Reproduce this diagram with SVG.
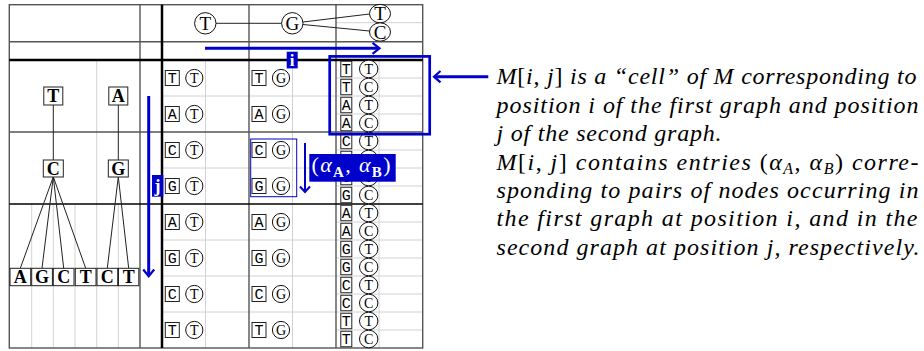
<svg xmlns="http://www.w3.org/2000/svg" width="924" height="351" viewBox="0 0 924 351">
<style>
.lt{stroke:#d2d2d2;stroke-width:1;fill:none}
.dk{stroke:#555;stroke-width:1.4;fill:none}
.bk{stroke:#000;fill:none}
.nb rect{fill:#fff;stroke:#222;stroke-width:1}
.nb text{font-family:"Liberation Serif",serif;font-weight:bold;font-size:18px;text-anchor:middle;fill:#000}
.cn circle,.cn ellipse{fill:#fff;stroke:#111;stroke-width:1}
.cn text{font-family:"Liberation Serif",serif;font-size:19px;text-anchor:middle;fill:#000}
.e rect{fill:#fff;stroke:#222;stroke-width:1}
.e circle,.e ellipse{fill:#fff;stroke:#111;stroke-width:1}
.tt{font-family:"Liberation Mono",monospace;font-size:15px;text-anchor:middle;fill:#000}
.cl{font-family:"Liberation Serif",serif;font-size:14px;text-anchor:middle;fill:#000}
.edge{stroke:#222;stroke-width:1;fill:none}
.bl{stroke:#0000cc;fill:none}
.lbl{fill:#0000cc}
.lw{fill:#fff;font-family:"Liberation Serif",serif;font-weight:bold;text-anchor:middle}
.up{font-style:normal}
</style>

<g id="table">
  <g class="lt">
    <line x1="205.5" y1="60" x2="205.5" y2="348"/>
    <line x1="292.5" y1="60" x2="292.5" y2="348"/>
    <line x1="379" y1="60" x2="379" y2="348"/>
    <line x1="96.7" y1="60" x2="96.7" y2="348"/>
    <line x1="31.7" y1="204" x2="31.7" y2="348"/>
    <line x1="53.3" y1="204" x2="53.3" y2="348"/>
    <line x1="75" y1="204" x2="75" y2="348"/>
    <line x1="118.3" y1="204" x2="118.3" y2="348"/>
    <line x1="162" y1="96" x2="422.7" y2="96"/>
    <line x1="162" y1="168" x2="422.7" y2="168"/>
    <line x1="162" y1="240" x2="422.7" y2="240"/>
    <line x1="162" y1="276" x2="422.7" y2="276"/>
    <line x1="162" y1="312" x2="422.7" y2="312"/>
    <line x1="336" y1="78" x2="422.7" y2="78"/>
    <line x1="336" y1="114" x2="422.7" y2="114"/>
    <line x1="336" y1="150" x2="422.7" y2="150"/>
    <line x1="336" y1="186" x2="422.7" y2="186"/>
    <line x1="336" y1="222" x2="422.7" y2="222"/>
    <line x1="336" y1="258" x2="422.7" y2="258"/>
    <line x1="336" y1="294" x2="422.7" y2="294"/>
    <line x1="336" y1="330" x2="422.7" y2="330"/>
    <line x1="336" y1="22.7" x2="422.7" y2="22.7"/>
  </g>
  <rect class="dk" x="9.3" y="4.7" width="413.4" height="343.3"/>
  <line class="dk" x1="9.3" y1="41.7" x2="422.7" y2="41.7"/>
  <line class="dk" x1="9.3" y1="132" x2="422.7" y2="132"/>
  <line class="dk" x1="249" y1="4.7" x2="249" y2="348"/>
  <line class="dk" x1="140" y1="4.7" x2="140" y2="348" stroke-width="2"/>
  <line class="dk" x1="336" y1="4.7" x2="336" y2="348" stroke-width="2"/>
  <line class="bk" x1="9.3" y1="204" x2="422.7" y2="204" stroke-width="1.3"/>
  <line class="bk" x1="9.3" y1="60" x2="422.7" y2="60" stroke-width="2.5"/>
  <line class="bk" x1="162" y1="4.7" x2="162" y2="348" stroke-width="2.5"/>
</g>

<g id="connectors">
  <line class="edge" x1="53.3" y1="105" x2="53.3" y2="160"/>
  <line class="edge" x1="118.3" y1="105" x2="118.3" y2="160"/>
  <line class="edge" x1="53.3" y1="176.8" x2="20.3" y2="268.3"/>
  <line class="edge" x1="53.3" y1="176.8" x2="42" y2="268.3"/>
  <line class="edge" x1="53.3" y1="176.8" x2="63.7" y2="268.3"/>
  <line class="edge" x1="53.3" y1="176.8" x2="85.7" y2="268.3"/>
  <line class="edge" x1="118.3" y1="176.8" x2="107.3" y2="268.3"/>
  <line class="edge" x1="118.3" y1="176.8" x2="128.7" y2="268.3"/>
  <line class="edge" x1="216" y1="23.3" x2="281.6" y2="23.3"/>
  <line class="edge" x1="303" y1="22" x2="369.5" y2="14"/>
  <line class="edge" x1="303" y1="24.5" x2="369.5" y2="31"/>
</g>

<g id="graph1">
  <g id="n-T" class="nb"><rect x="43.8" y="87" width="19" height="18"/><text x="53.3" y="102.3">T</text></g>
  <g id="n-A" class="nb"><rect x="108.8" y="87" width="19" height="18"/><text x="118.3" y="102.3">A</text></g>
  <g id="n-C" class="nb"><rect x="43.3" y="160" width="20" height="17"/><text x="53.3" y="174.8">C</text></g>
  <g id="n-G" class="nb"><rect x="108.3" y="160" width="20" height="17"/><text x="118.3" y="174.8">G</text></g>
  <g id="leaf-A" class="nb"><rect x="10" y="268.3" width="20.7" height="17.4"/><text x="20.3" y="283">A</text></g>
  <g id="leaf-G" class="nb"><rect x="31.7" y="268.3" width="20.7" height="17.4"/><text x="42" y="283">G</text></g>
  <g id="leaf-C1" class="nb"><rect x="53.3" y="268.3" width="20.7" height="17.4"/><text x="63.7" y="283">C</text></g>
  <g id="leaf-T1" class="nb"><rect x="75.3" y="268.3" width="20.7" height="17.4"/><text x="85.7" y="283">T</text></g>
  <g id="leaf-C2" class="nb"><rect x="97" y="268.3" width="20.7" height="17.4"/><text x="107.3" y="283">C</text></g>
  <g id="leaf-T2" class="nb"><rect x="118.5" y="268.3" width="20.3" height="17.4"/><text x="128.7" y="283">T</text></g>
</g>

<g id="graph2">
  <g id="m-T" class="cn"><circle cx="205.3" cy="23.3" r="10.7"/><text x="205.3" y="30">T</text></g>
  <g id="m-G" class="cn"><circle cx="292.3" cy="23.3" r="10.7"/><text x="292.3" y="30">G</text></g>
  <g id="m-T2" class="cn"><ellipse cx="380" cy="13.6" rx="10.5" ry="9.2"/><text x="380" y="20">T</text></g>
  <g id="m-C" class="cn"><ellipse cx="380" cy="32" rx="10.5" ry="9.2"/><text x="380" y="38.5">C</text></g>
</g>

<g id="cells">
  <g class="e" transform="translate(172.3,78)"><rect x="-7" y="-7.5" width="14" height="15"/><text class="tt" y="5.3">T</text><circle cx="22" r="8.6"/><text class="cl" x="22" y="5">T</text></g>
  <g class="e" transform="translate(172.3,114)"><rect x="-7" y="-7.5" width="14" height="15"/><text class="tt" y="5.3">A</text><circle cx="22" r="8.6"/><text class="cl" x="22" y="5">T</text></g>
  <g class="e" transform="translate(172.3,150)"><rect x="-7" y="-7.5" width="14" height="15"/><text class="tt" y="5.3">C</text><circle cx="22" r="8.6"/><text class="cl" x="22" y="5">T</text></g>
  <g class="e" transform="translate(172.3,186)"><rect x="-7" y="-7.5" width="14" height="15"/><text class="tt" y="5.3">G</text><circle cx="22" r="8.6"/><text class="cl" x="22" y="5">T</text></g>
  <g class="e" transform="translate(172.3,222)"><rect x="-7" y="-7.5" width="14" height="15"/><text class="tt" y="5.3">A</text><circle cx="22" r="8.6"/><text class="cl" x="22" y="5">T</text></g>
  <g class="e" transform="translate(172.3,258)"><rect x="-7" y="-7.5" width="14" height="15"/><text class="tt" y="5.3">G</text><circle cx="22" r="8.6"/><text class="cl" x="22" y="5">T</text></g>
  <g class="e" transform="translate(172.3,294)"><rect x="-7" y="-7.5" width="14" height="15"/><text class="tt" y="5.3">C</text><circle cx="22" r="8.6"/><text class="cl" x="22" y="5">T</text></g>
  <g class="e" transform="translate(172.3,330)"><rect x="-7" y="-7.5" width="14" height="15"/><text class="tt" y="5.3">T</text><circle cx="22" r="8.6"/><text class="cl" x="22" y="5">T</text></g>

  <g class="e" transform="translate(259,78)"><rect x="-7" y="-7.5" width="14" height="15"/><text class="tt" y="5.3">T</text><circle cx="22" r="8.6"/><text class="cl" x="22" y="5">G</text></g>
  <g class="e" transform="translate(259,114)"><rect x="-7" y="-7.5" width="14" height="15"/><text class="tt" y="5.3">A</text><circle cx="22" r="8.6"/><text class="cl" x="22" y="5">G</text></g>
  <g class="e" transform="translate(259,150)"><rect x="-7" y="-7.5" width="14" height="15"/><text class="tt" y="5.3">C</text><circle cx="22" r="8.6"/><text class="cl" x="22" y="5">G</text></g>
  <g class="e" transform="translate(259,186)"><rect x="-7" y="-7.5" width="14" height="15"/><text class="tt" y="5.3">G</text><circle cx="22" r="8.6"/><text class="cl" x="22" y="5">G</text></g>
  <g class="e" transform="translate(259,222)"><rect x="-7" y="-7.5" width="14" height="15"/><text class="tt" y="5.3">A</text><circle cx="22" r="8.6"/><text class="cl" x="22" y="5">G</text></g>
  <g class="e" transform="translate(259,258)"><rect x="-7" y="-7.5" width="14" height="15"/><text class="tt" y="5.3">G</text><circle cx="22" r="8.6"/><text class="cl" x="22" y="5">G</text></g>
  <g class="e" transform="translate(259,294)"><rect x="-7" y="-7.5" width="14" height="15"/><text class="tt" y="5.3">C</text><circle cx="22" r="8.6"/><text class="cl" x="22" y="5">G</text></g>
  <g class="e" transform="translate(259,330)"><rect x="-7" y="-7.5" width="14" height="15"/><text class="tt" y="5.3">T</text><circle cx="22" r="8.6"/><text class="cl" x="22" y="5">G</text></g>

  <g class="e" transform="translate(346.3,69)"><rect x="-5.5" y="-7.75" width="11" height="15.5"/><text class="tt" y="5.2">T</text><ellipse cx="22.4" rx="9.2" ry="8.8"/><text class="cl" x="22.4" y="5">T</text></g>
  <g class="e" transform="translate(346.3,87)"><rect x="-5.5" y="-7.75" width="11" height="15.5"/><text class="tt" y="5.2">T</text><ellipse cx="22.4" rx="9.2" ry="8.8"/><text class="cl" x="22.4" y="5">C</text></g>
  <g class="e" transform="translate(346.3,105)"><rect x="-5.5" y="-7.75" width="11" height="15.5"/><text class="tt" y="5.2">A</text><ellipse cx="22.4" rx="9.2" ry="8.8"/><text class="cl" x="22.4" y="5">T</text></g>
  <g class="e" transform="translate(346.3,123)"><rect x="-5.5" y="-7.75" width="11" height="15.5"/><text class="tt" y="5.2">A</text><ellipse cx="22.4" rx="9.2" ry="8.8"/><text class="cl" x="22.4" y="5">C</text></g>
  <g class="e" transform="translate(346.3,141)"><rect x="-5.5" y="-7.75" width="11" height="15.5"/><text class="tt" y="5.2">C</text><ellipse cx="22.4" rx="9.2" ry="8.8"/><text class="cl" x="22.4" y="5">T</text></g>
  <g class="e" transform="translate(346.3,159)"><rect x="-5.5" y="-7.75" width="11" height="15.5"/><text class="tt" y="5.2">C</text><ellipse cx="22.4" rx="9.2" ry="8.8"/><text class="cl" x="22.4" y="5">C</text></g>
  <g class="e" transform="translate(346.3,177)"><rect x="-5.5" y="-7.75" width="11" height="15.5"/><text class="tt" y="5.2">G</text><ellipse cx="22.4" rx="9.2" ry="8.8"/><text class="cl" x="22.4" y="5">T</text></g>
  <g class="e" transform="translate(346.3,195)"><rect x="-5.5" y="-7.75" width="11" height="15.5"/><text class="tt" y="5.2">G</text><ellipse cx="22.4" rx="9.2" ry="8.8"/><text class="cl" x="22.4" y="5">C</text></g>
  <g class="e" transform="translate(346.3,213)"><rect x="-5.5" y="-7.75" width="11" height="15.5"/><text class="tt" y="5.2">A</text><ellipse cx="22.4" rx="9.2" ry="8.8"/><text class="cl" x="22.4" y="5">T</text></g>
  <g class="e" transform="translate(346.3,231)"><rect x="-5.5" y="-7.75" width="11" height="15.5"/><text class="tt" y="5.2">A</text><ellipse cx="22.4" rx="9.2" ry="8.8"/><text class="cl" x="22.4" y="5">C</text></g>
  <g class="e" transform="translate(346.3,249)"><rect x="-5.5" y="-7.75" width="11" height="15.5"/><text class="tt" y="5.2">G</text><ellipse cx="22.4" rx="9.2" ry="8.8"/><text class="cl" x="22.4" y="5">T</text></g>
  <g class="e" transform="translate(346.3,267)"><rect x="-5.5" y="-7.75" width="11" height="15.5"/><text class="tt" y="5.2">G</text><ellipse cx="22.4" rx="9.2" ry="8.8"/><text class="cl" x="22.4" y="5">C</text></g>
  <g class="e" transform="translate(346.3,285)"><rect x="-5.5" y="-7.75" width="11" height="15.5"/><text class="tt" y="5.2">C</text><ellipse cx="22.4" rx="9.2" ry="8.8"/><text class="cl" x="22.4" y="5">T</text></g>
  <g class="e" transform="translate(346.3,303)"><rect x="-5.5" y="-7.75" width="11" height="15.5"/><text class="tt" y="5.2">C</text><ellipse cx="22.4" rx="9.2" ry="8.8"/><text class="cl" x="22.4" y="5">C</text></g>
  <g class="e" transform="translate(346.3,321)"><rect x="-5.5" y="-7.75" width="11" height="15.5"/><text class="tt" y="5.2">T</text><ellipse cx="22.4" rx="9.2" ry="8.8"/><text class="cl" x="22.4" y="5">T</text></g>
  <g class="e" transform="translate(346.3,339)"><rect x="-5.5" y="-7.75" width="11" height="15.5"/><text class="tt" y="5.2">T</text><ellipse cx="22.4" rx="9.2" ry="8.8"/><text class="cl" x="22.4" y="5">C</text></g>
</g>

<g id="annotations">
  <line class="bl" x1="205" y1="48.3" x2="378.5" y2="48.3" stroke-width="3"/>
  <polyline class="bl" points="372.5,42.8 379.5,48.3 372.5,53.8" stroke-width="2.2"/>
  <rect class="lbl" x="286.7" y="51.7" width="11" height="16.7"/>
  <text class="lw" x="292.2" y="65.5" font-size="17">i</text>
  <line class="bl" x1="148.7" y1="96" x2="148.7" y2="274.5" stroke-width="3"/>
  <polyline class="bl" points="143.2,269.5 148.7,276.3 154.2,269.5" stroke-width="2.2"/>
  <rect class="lbl" x="152" y="175" width="11.3" height="21.7"/>
  <text class="lw" x="157.6" y="191.5" font-size="18">j</text>
  <rect class="bl" x="329.7" y="56.4" width="100" height="77.8" stroke-width="2.7"/>
  <line class="bl" x1="488.3" y1="76.7" x2="435.5" y2="76.7" stroke-width="3"/>
  <polyline class="bl" points="440.5,71 434,76.7 440.5,82.4" stroke-width="2.2"/>
  <rect class="bl" x="250.7" y="139" width="46" height="57.7" stroke-width="1" stroke="#3333dd"/>
  <line class="bl" x1="305" y1="143" x2="305" y2="190.5" stroke-width="2"/>
  <polyline class="bl" points="300,186.5 305,192 310,186.5" stroke-width="2"/>
  <rect class="lbl" x="309.3" y="154" width="86.4" height="27.7"/>
  <text x="311.5" y="172" font-family="Liberation Serif" font-size="22" fill="#fff" textLength="79">(<tspan font-style="italic">α</tspan><tspan font-weight="bold" font-size="15" dy="5">A</tspan><tspan dy="-5">, </tspan><tspan font-style="italic">α</tspan><tspan font-weight="bold" font-size="15" dy="5">B</tspan><tspan dy="-5">)</tspan></text>
</g>

<g id="caption" font-family="Liberation Serif" font-style="italic" font-size="24" fill="#000">
  <text x="496.5" y="84.3" textLength="420">M<tspan class="up">[</tspan>i<tspan class="up">, </tspan>j<tspan class="up">]</tspan> is a “cell” of M corresponding to</text>
  <text x="496.5" y="112.7" textLength="422">position i of the first graph and position</text>
  <text x="496.5" y="141.1" textLength="225">j of the second graph.</text>
  <text x="496.5" y="169.5" textLength="422">M<tspan class="up">[</tspan>i<tspan class="up">, </tspan>j<tspan class="up">]</tspan> contains entries <tspan class="up">(</tspan>α<tspan font-size="16" dy="4">A</tspan><tspan class="up" dy="-4">, </tspan>α<tspan font-size="16" dy="4">B</tspan><tspan class="up" dy="-4">)</tspan> corre-</text>
  <text x="496.5" y="197.9" textLength="422">sponding to pairs of nodes occurring in</text>
  <text x="496.5" y="226.3" textLength="421">the first graph at position i, and in the</text>
  <text x="496.5" y="254.7" textLength="423">second graph at position j, respectively.</text>
</g>
</svg>
